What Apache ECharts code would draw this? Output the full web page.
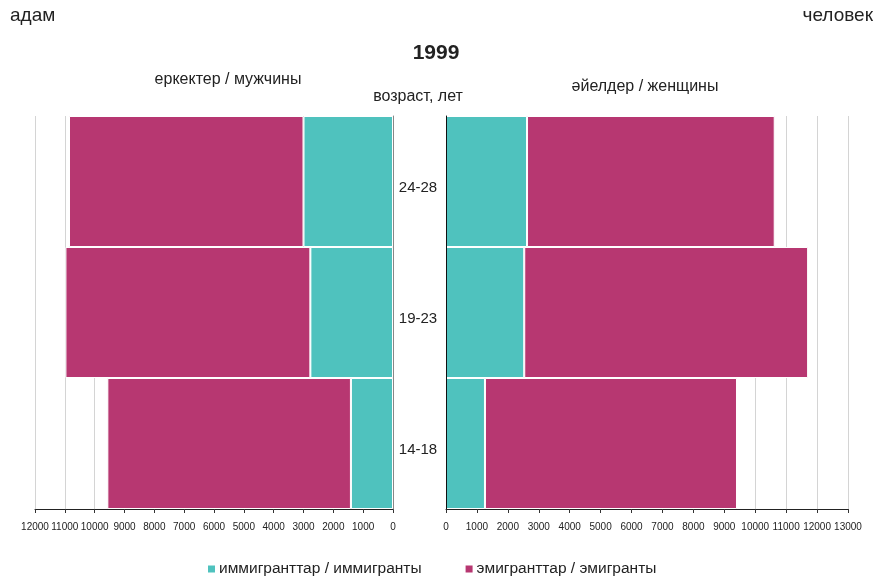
<!DOCTYPE html>
<html><head><meta charset="utf-8">
<script src="https://cdn.jsdelivr.net/npm/echarts@6/dist/echarts.min.js"></script>
<style>html,body{margin:0;padding:0;background:#fff}#c{width:875px;height:581px}</style>
</head><body><div id="c"></div>
<script>
const categories = ['14-18', '19-23', '24-28'];
const menImmigrants = [1410, 2770, 3000];
const menEmigrants = [8165, 8210, 7860];
const womenImmigrants = [1260, 2530, 2620];
const womenEmigrants = [8150, 9180, 8010];
const seriesNames = ['иммигранттар / иммигранты', 'эмигранттар / эмигранты'];
const leftTicksMax = 12000;
const rightTicksMax = 13000;

const FONT = 'Liberation Sans, Arial, sans-serif';
const TEAL = '#4FC2BE';
const MAG = '#B73771';

const chart = echarts.init(document.getElementById('c'));
const xAxisCommon = {
  type: 'value', min: 0, interval: 1000,
  axisLine: { show: true, lineStyle: { color: '#222' } },
  axisTick: { show: true, length: 4, lineStyle: { color: '#333' } },
  axisLabel: { color: '#222', fontSize: 10, fontFamily: FONT, margin: 13, hideOverlap: false, showMinLabel: true, showMaxLabel: true, formatter: (v) => String(v) },
  splitLine: { show: true, lineStyle: { color: '#d4d4d4', width: 1 } }
};
const barStyle = (c) => ({ color: c, borderColor: '#fff', borderWidth: 1 });
const t = (text, left, top, size, align) => ({ text, left, top, textAlign: align, padding: 0, textStyle: { fontSize: size, fontWeight: 'normal', color: '#222', fontFamily: FONT } });
chart.setOption({
  animation: false,
  textStyle: { fontFamily: FONT },
  title: [
    { text: '1999', left: 436, top: 43, textAlign: 'center', padding: 0, textStyle: { fontSize: 21, fontWeight: 'bold', color: '#222', fontFamily: FONT } },
    t('адам', 10, 6, 19, 'left'),
    { text: 'человек', right: 2, top: 6, padding: 0, textStyle: { fontSize: 19, fontWeight: 'normal', color: '#222', fontFamily: FONT } },
    t('еркектер / мужчины', 228, 72, 16, 'center'),
    t('әйелдер / женщины', 645, 79, 16, 'center'),
    t('возраст, лет', 418, 89, 16, 'center')
  ],
  legend: {
    top: 556, left: 201, itemWidth: 9, itemHeight: 9, itemGap: 42, icon: 'rect',
    textStyle: { fontSize: 15.5, color: '#222', fontFamily: FONT, padding: [0, 0, 0, -2] },
    data: seriesNames
  },
  grid: [
    { left: 35, right: 482, top: 116, bottom: 72 },
    { left: 446, right: 27, top: 116, bottom: 72 }
  ],
  xAxis: [
    Object.assign({}, xAxisCommon, { gridIndex: 0, inverse: true, max: leftTicksMax }),
    Object.assign({}, xAxisCommon, { gridIndex: 1, max: rightTicksMax })
  ],
  yAxis: [
    { type: 'category', gridIndex: 0, data: categories, position: 'right', z: 10,
      axisLine: { show: true, lineStyle: { color: '#888' } }, axisTick: { show: false },
      axisLabel: { show: true, align: 'center', margin: 25, formatter: (v) => '{a|' + v + '}',
        rich: { a: { fontSize: 15, color: '#222', fontFamily: FONT, padding: [13, 0, 0, 0] } } } },
    { type: 'category', gridIndex: 1, data: categories, position: 'left', z: 10,
      axisLine: { show: true, lineStyle: { color: '#111' } }, axisTick: { show: false },
      axisLabel: { show: false } }
  ],
  series: [
    { name: seriesNames[0], type: 'bar', stack: 'm', xAxisIndex: 0, yAxisIndex: 0, data: menImmigrants, barCategoryGap: 0, itemStyle: barStyle(TEAL) },
    { name: seriesNames[1], type: 'bar', stack: 'm', xAxisIndex: 0, yAxisIndex: 0, data: menEmigrants, barCategoryGap: 0, itemStyle: barStyle(MAG) },
    { name: seriesNames[0], type: 'bar', stack: 'w', xAxisIndex: 1, yAxisIndex: 1, data: womenImmigrants, barCategoryGap: 0, itemStyle: barStyle(TEAL) },
    { name: seriesNames[1], type: 'bar', stack: 'w', xAxisIndex: 1, yAxisIndex: 1, data: womenEmigrants, barCategoryGap: 0, itemStyle: barStyle(MAG) }
  ]
});
</script></body></html>
